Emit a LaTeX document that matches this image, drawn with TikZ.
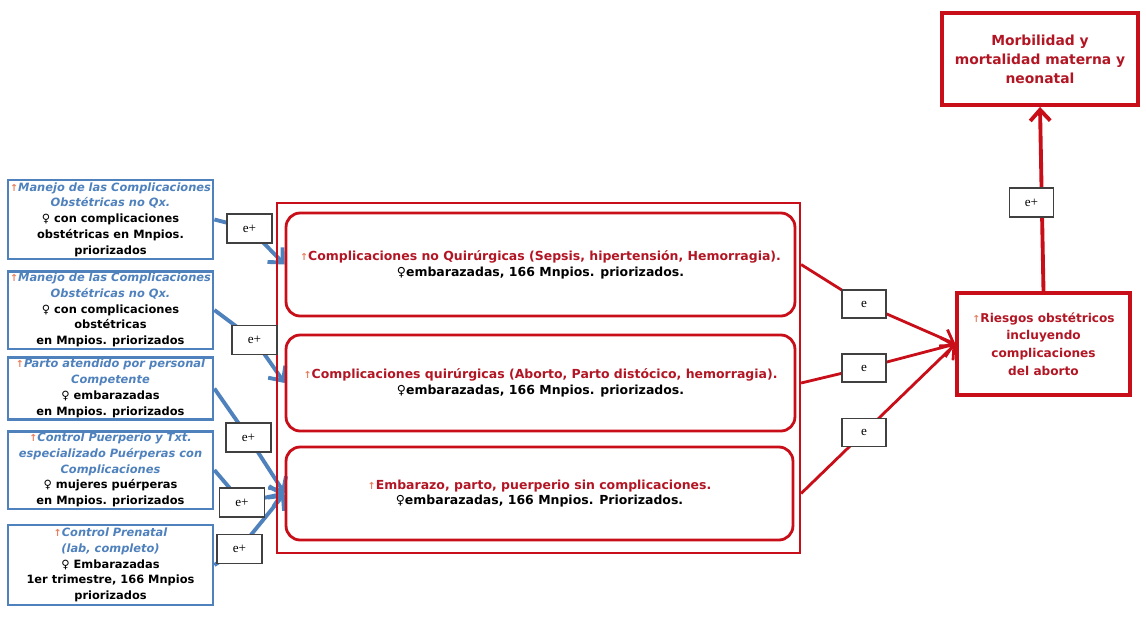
\documentclass[tikz,border=0pt]{standalone}
\usepackage{fontspec}
\setmainfont{DejaVu Sans}
\newfontfamily\serifa{Liberation Serif}
\usetikzlibrary{arrows.meta, backgrounds}

\definecolor{azul}{RGB}{79,129,189}
\definecolor{rojo}{RGB}{200,14,24}
\definecolor{rojotxt}{RGB}{178,22,36}
\definecolor{flecha}{RGB}{232,128,96}
\newcommand{\flechita}{{\color{flecha}\fontsize{5.5}{5.5}\selectfont ↑}}
\newcommand{\az}[1]{{\color{azul}\itshape #1}}
\newcommand{\rj}[1]{{\color{rojotxt}#1}}

\begin{document}
\begin{tikzpicture}[
    x=0.02cm,
    y=-0.02cm,
    metabox/.style={
        rectangle,
        draw=azul,
        line width=1.6pt,
        fill=white,
        minimum width=4.1cm,
        inner sep=1pt,
        align=center,
        font=\fontsize{6.5}{9}\selectfont\bfseries
    },
    compbox/.style={
        rectangle,
        draw=rojo,
        line width=1.6pt,
        rounded corners=8pt,
        minimum width=10.18cm,
        align=center,
        font=\fontsize{7.1}{9}\selectfont\bfseries
    },
    resbox/.style={
        rectangle,
        draw=rojo,
        line width=1.8pt,
        align=center,
        text=rojotxt
    },
    efecto/.style={
        rectangle,
        draw=black!75,
        line width=0.6pt,
        fill=white,
        minimum width=0.88cm,
        minimum height=0.56cm,
        inner sep=0pt,
        font=\serifa\fontsize{7.5}{7.5}\selectfont
    },
    flechaazul/.style={
        -{Straight Barb[length=2.2mm,width=4.2mm]},
        line width=2.2pt,
        draw=azul
    },
    flecharoja/.style={
        -{Straight Barb[length=2.2mm,width=4mm]},
        line width=1.6pt,
        draw=rojo
    }
]
    \useasboundingbox (0,0) rectangle (1146,630);

    \node [metabox, minimum height=1.58cm] (m1) at (110.5,219.5) {\flechita\az{Manejo de las Complicaciones}\\ \az{Obstétricas no Qx.}\\ ♀ con complicaciones\\ obstétricas en Mnpios.\\ priorizados};
    \node [metabox, minimum height=1.52cm] (m2) at (110.5,310) {\flechita\az{Manejo de las Complicaciones}\\ \az{Obstétricas no Qx.}\\ ♀ con complicaciones\\ obstétricas\\ en Mnpios. priorizados};
    \node [metabox, minimum height=1.22cm] (m3) at (110.5,388.5) {\flechita\az{Parto atendido por personal}\\ \az{Competente}\\ ♀ embarazadas\\ en Mnpios. priorizados};
    \node [metabox, minimum height=1.52cm] (m4) at (110.5,470) {\flechita\az{Control Puerperio y Txt.}\\ \az{especializado Puérperas con}\\ \az{Complicaciones}\\ ♀ mujeres puérperas\\ en Mnpios. priorizados};
    \node [metabox, minimum height=1.6cm] (m5) at (110.5,565) {\flechita\az{Control Prenatal}\\ \az{(lab, completo)}\\ ♀ Embarazadas\\ 1er trimestre, 166 Mnpios\\ priorizados};

    \node [draw=rojo, line width=1.3pt, minimum width=10.46cm, minimum height=7cm] (marco) at (538.5,378) {};
    \node [compbox, minimum height=2.06cm] (c1) at (540.5,264.5) {\flechita\rj{Complicaciones no Quirúrgicas (Sepsis, hipertensión, Hemorragia).}\\ ♀embarazadas, 166 Mnpios. priorizados.};
    \node [compbox, minimum height=1.92cm] (c2) at (540.5,383) {\flechita\rj{Complicaciones quirúrgicas (Aborto, Parto distócico, hemorragia).}\\ ♀embarazadas, 166 Mnpios. priorizados.};
    \node [compbox, minimum height=1.86cm, minimum width=10.14cm] (c3) at (539.5,493.5) {\flechita\rj{Embarazo, parto, puerperio sin complicaciones.}\\ ♀embarazadas, 166 Mnpios. Priorizados.};

    \node [resbox, minimum width=3.46cm, minimum height=2.04cm, font=\fontsize{6.9}{10}\selectfont\bfseries] (riesgo) at (1043.5,344) {\flechita Riesgos obstétricos\\ incluyendo\\ complicaciones\\ del aborto};
    \node [resbox, line width=2.2pt, minimum width=3.92cm, minimum height=1.84cm, font=\fontsize{7.9}{10.8}\selectfont\bfseries] (morb) at (1040,59) {Morbilidad y\\ mortalidad materna y\\ neonatal};

    \node [efecto, minimum width=0.9cm, minimum height=0.58cm] (ep1) at (249.5,228.5) {e+};
    \node [efecto, minimum width=0.9cm, minimum height=0.58cm] (ep2) at (254.5,340) {e+};
    \node [efecto, minimum width=0.9cm, minimum height=0.58cm] (ep3) at (248.5,437.5) {e+};
    \node [efecto, minimum width=0.9cm, minimum height=0.58cm] (ep4) at (242,502.5) {e+};
    \node [efecto, minimum width=0.9cm, minimum height=0.58cm] (ep5) at (239.5,549) {e+};
    \node [efecto] (e1) at (864,304) {e};
    \node [efecto] (e2) at (864,368) {e};
    \node [efecto] (e3) at (864,432.5) {e};
    \node [efecto, minimum height=0.58cm] (ep6) at (1031.5,202.5) {e+};

    \begin{pgfonlayer}{background}
        \draw [flechaazul] (m1.east) -- (ep1.center) -- (c1.west);
        \draw [flechaazul] (m2.east) -- (ep2.center) -- (c2.west);
        \draw [flechaazul] (m3.east) -- (ep3.center) -- (c3.west);
        \draw [flechaazul] (m4.east) -- (ep4.center) -- (c3.west);
        \draw [flechaazul] (m5.east) -- (ep5.center) -- (c3.west);
        \draw [flecharoja] (c1.east -| marco.east) -- (e1.center) -- (riesgo.west);
        \draw [flecharoja] (c2.east -| marco.east) -- (e2.center) -- (riesgo.west);
        \draw [flecharoja] (c3.east -| marco.east) -- (e3.center) -- (riesgo.west);
        \draw [flecharoja, line width=2.2pt] (riesgo.north) -- (morb.south);
    \end{pgfonlayer}
\end{tikzpicture}
\end{document}
